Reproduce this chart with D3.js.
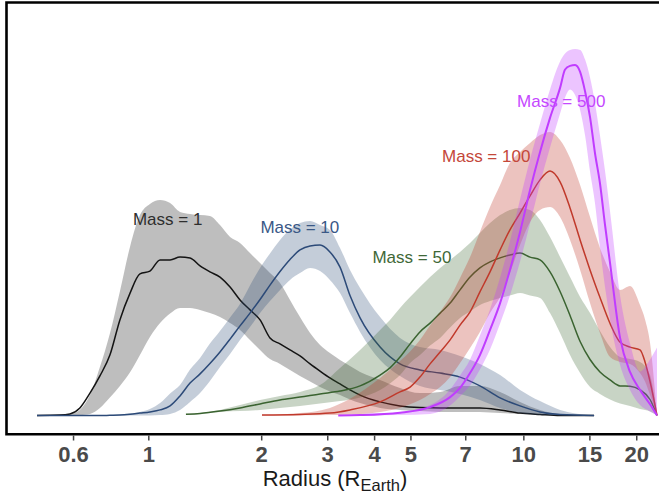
<!DOCTYPE html>
<html>
<head>
<meta charset="utf-8">
<script src="https://cdn.jsdelivr.net/npm/d3@7"></script>
<style>
  body { margin: 0; background: #fff; }
  svg { display: block; font-family: "Liberation Sans", Arial, sans-serif; }
</style>
</head>
<body>
<div id="chart"></div>
<script>
var width = 659, height = 493;

var xTicks = [0.63, 1, 2, 3, 4, 5, 7, 10, 15, 20];
var xTickLabels = ["0.6", "1", "2", "3", "4", "5", "7", "10", "15", "20"];

// radius grid shared by Mass = 1 and Mass = 10
var rLow = [0.505, 0.581, 0.618, 0.657, 0.699, 0.743, 0.79, 0.84, 0.894, 0.95, 1.01, 1.075, 1.143, 1.215, 1.292,
  1.374, 1.46, 1.553, 1.652, 1.756, 1.867, 1.986, 2.111, 2.245, 2.387, 2.538, 2.7, 2.87, 3.05, 3.245, 3.45,
  3.67, 4.15, 4.69, 5.3, 6.0, 6.78, 7.66, 8.67, 9.8, 11.08, 12.53, 15.44];
var m1Mean = [0, 0.1, 0.4, 1.9, 5.6, 9.9, 15.1, 23.9, 30.6, 35.4, 36.1, 38.9, 38.9, 39.6, 39.4,
  37.4, 35.9, 34.6, 32.1, 28.9, 26.4, 23.9, 19.4, 17.9, 16.4, 14.9, 12.9, 11.1, 9.4, 7.9, 6.4,
  5.1, 3.4, 2.4, 2.0, 1.9, 1.9, 1.9, 1.4, 0.6, 0.25, 0, 0];
var m1Lo = [0, 0, 0, 0.1, 0.4, 1.9, 4.5, 7.4, 10.8, 15.1, 19.6, 23.1, 25.5, 26.9, 26.9,
  26.4, 25.6, 24.6, 23.1, 21.4, 18.9, 16.4, 14.1, 12.9, 11.4, 9.9, 8.5, 7.1, 6.0, 5.1, 4.0,
  3.1, 1.9, 1.4, 1.1, 0.9, 0.9, 0.9, 0.6, 0.4, 0.2, 0.1, 0];
var m1Hi = [0, 0.2, 0.4, 1.4, 5.1, 12.1, 20.5, 31.0, 42.2, 50.1, 52.9, 53.9, 53.1, 50.9, 50.4,
  50.1, 49.9, 47.6, 44.6, 43.1, 40.6, 38.1, 35.6, 33.1, 28.9, 24.6, 20.6, 17.6, 15.6, 13.9, 12.4,
  10.9, 8.9, 6.9, 5.6, 5.9, 7.4, 7.4, 5.9, 3.4, 1.4, 0.4, 0];
var m10Mean = [0, 0, 0, 0, 0, 0, 0.05, 0.1, 0.3, 0.6, 0.9, 1.4, 2.4, 4.9, 8.1,
  10.4, 13.0, 15.9, 19.1, 22.4, 25.6, 29.0, 32.6, 36.0, 39.0, 41.4, 42.4, 42.6, 40.9, 37.1, 30.0,
  24.4, 17.1, 12.9, 11.4, 10.6, 9.6, 7.4, 4.4, 2.4, 0.9, 0.25, 0];
var m10Lo = [0, 0, 0, 0, 0, 0, 0, 0, 0, 0, 0, 0.1, 0.4, 1.4, 3.4,
  5.6, 8.6, 12.1, 15.4, 18.9, 22.1, 25.6, 28.6, 31.4, 33.9, 35.6, 36.9, 36.1, 33.9, 30.6, 25.6,
  20.9, 13.9, 9.9, 7.4, 6.4, 5.4, 3.9, 1.9, 0.6, 0.1, 0, 0];
var m10Hi = [0, 0, 0, 0, 0, 0.05, 0.1, 0.25, 0.5, 0.9, 1.6, 3.1, 5.5, 7.6, 11.5,
  14.4, 18.0, 21.1, 24.5, 27.9, 32.5, 36.9, 40.5, 43.9, 46.5, 48.1, 48.6, 47.6, 46.4, 41.9, 36.4,
  31.9, 24.6, 19.4, 17.1, 16.4, 14.9, 12.9, 10.1, 6.4, 3.6, 1.4, 0];

// Mass = 50
var r50 = [1.26, 1.374, 1.553, 1.756, 1.986, 2.245, 2.538, 2.87, 3.245, 3.67, 4.15, 4.41, 4.69, 4.99, 5.3,
  5.64, 6.0, 6.38, 6.78, 7.21, 7.66, 8.15, 8.67, 9.21, 9.8, 10.42, 11.08, 11.78, 12.53, 13.32, 14.17,
  15.06, 16.01, 17.03, 18.11, 19.25, 20.47, 21.77, 22.72];
var m50Mean = [0.3, 0.5, 1.1, 1.9, 2.9, 3.9, 4.6, 5.4, 6.1, 7.4, 10.1, 11.9, 14.6, 17.9, 20.9,
  23.1, 25.6, 28.1, 31.4, 34.6, 36.9, 38.4, 39.4, 40.1, 40.6, 39.6, 38.9, 35.9, 31.0, 25.0, 18.5,
  14.0, 10.9, 8.9, 7.4, 7.3, 6.4, 4.0, 0];
var m50Lo = [0.2, 0.4, 0.9, 1.1, 1.4, 1.9, 2.4, 3.0, 3.6, 4.5, 6.4, 8.0, 10.1, 13.1, 15.1,
  17.5, 19.4, 22.0, 24.4, 26.0, 27.6, 28.6, 29.4, 30.0, 30.6, 30.0, 29.4, 25.6, 20.6, 15.1, 10.6,
  7.1, 5.4, 4.0, 3.0, 2.4, 1.6, 1.0, 0];
var m50Hi = [0.3, 0.6, 1.4, 2.6, 3.9, 4.9, 5.9, 7.6, 11.9, 16.4, 21.4, 23.9, 26.9, 29.6, 32.1,
  34.6, 36.9, 38.9, 40.9, 43.1, 45.6, 48.1, 50.1, 51.4, 51.9, 51.4, 48.9, 44.6, 39.6, 34.6, 29.6,
  25.6, 21.1, 17.1, 14.6, 14.1, 13.4, 10.1, 0];

// Mass = 100
var r100 = [2.01, 2.538, 3.05, 3.45, 4.15, 4.69, 4.99, 5.3, 5.64, 6.0, 6.38, 6.78, 7.21, 7.66, 8.15,
  8.67, 9.21, 9.8, 10.42, 11.08, 11.78, 12.53, 13.32, 14.17, 15.06, 16.01, 17.03, 18.11, 19.25, 20.47,
  21.11, 21.77, 22.72];
var m100Mean = [0.1, 0.25, 0.6, 1.4, 3.4, 5.9, 7.1, 9.6, 12.9, 15.9, 18.9, 22.6, 25.9, 30.9, 35.9,
  41.4, 46.4, 50.6, 54.9, 58.9, 61.1, 58.4, 51.9, 43.9, 36.4, 29.5, 23.0, 18.3, 17.1, 16.4,
  13.4, 8.5, 0];
var m100Lo = [0, 0.05, 0.1, 0.25, 0.9, 1.9, 2.8, 3.9, 5.4, 7.1, 9.6, 13.1, 16.9, 20.9, 25.6,
  29.6, 35.6, 42.6, 48.4, 51.4, 52.1, 49.6, 43.9, 36.4, 28.1, 20.6, 14.6, 13.4, 12.9, 10.6,
  8.5, 5.1, 0];
var m100Hi = [0.1, 0.6, 1.9, 4.2, 9.4, 13.6, 16.0, 18.9, 22.5, 25.9, 29.6, 34.4, 39.6, 45.9, 52.1,
  57.6, 63.1, 65.9, 68.1, 70.1, 70.9, 68.9, 64.4, 57.6, 49.6, 41.9, 35.9, 31.4, 32.4, 27.6,
  24.0, 18.1, 0];

// Mass = 500
var r500 = [3.21, 3.67, 4.69, 5.64, 6.38, 6.78, 7.21, 7.66, 8.15, 8.67, 9.21, 9.8, 10.42, 11.08, 11.78,
  12.53, 12.92, 13.32, 13.74, 14.17, 14.61, 15.06, 15.53, 16.01, 16.52, 17.03, 18.11, 19.25, 20.47, 21.77,
  22.72];
var m500Mean = [0, 0.1, 0.7, 2.1, 4.6, 6.9, 10.6, 15.1, 21.4, 28.1, 36.4, 45.9, 56.4, 65.9, 74.4,
  81.9, 86.5, 87.4, 87.6, 85.9, 81.0, 74.6, 65.5, 58.0, 47.5, 38.1, 19.4, 10.9, 6.4, 2.8,
  0];
var m500Lo = [0, 0, 0.1, 0.4, 2.5, 4.8, 7.5, 11.5, 16.5, 23.0, 30.0, 38.5, 48.0, 58.0, 67.0,
  75.5, 79.5, 81.5, 80.1, 76.4, 70.0, 61.0, 53.0, 42.0, 32.0, 24.0, 12.6, 6.4, 2.6, 1.0,
  0];
var m500Hi = [0.05, 0.2, 0.8, 2.6, 6.5, 10.0, 14.0, 20.0, 26.5, 34.5, 43.5, 54.0, 64.0, 73.0, 81.5,
  88.5, 90.5, 91.4, 91.6, 91.4, 89.0, 84.5, 78.0, 70.0, 61.0, 51.0, 30.0, 18.0, 11.0, 14.0,
  17.0];

var masses = ["Mass = 1", "Mass = 10", "Mass = 50", "Mass = 100", "Mass = 500"];
var labelR = [0.91, 1.99, 3.96, 6.07, 9.62];
var labelV = [47.6, 45.6, 38.1, 63.4, 77.1];

var series = [
  {r: rLow, mean: m1Mean, lo: m1Lo, hi: m1Hi, line: "#141414", text: "#2e2e2e", op: 0.28, w: 1.5},
  {r: rLow, mean: m10Mean, lo: m10Lo, hi: m10Hi, line: "#2c4a78", text: "#3a5886", op: 0.28, w: 1.5},
  {r: r50, mean: m50Mean, lo: m50Lo, hi: m50Hi, line: "#3a6330", text: "#3f6838", op: 0.28, w: 1.5},
  {r: r100, mean: m100Mean, lo: m100Lo, hi: m100Hi, line: "#c0392b", text: "#c4473a", op: 0.3, w: 1.5},
  {r: r500, mean: m500Mean, lo: m500Lo, hi: m500Hi, line: "#c03cff", text: "#c548ff", op: 0.3, w: 2}
];

var svg = d3.select("#chart").append("svg")
  .attr("width", width)
  .attr("height", height);

var x = d3.scaleLog().domain([0.42, 23]).range([7, 659]);
var y = d3.scaleLinear().domain([0, 100]).range([415.5, 15.5]);

var area = d3.area()
  .curve(d3.curveMonotoneX)
  .x(d => x(d.r))
  .y0(d => y(d.lo))
  .y1(d => y(d.hi));

var line = d3.line()
  .curve(d3.curveMonotoneX)
  .x(d => x(d.r))
  .y(d => y(d.v));

var plot = svg.append("g");

series.forEach(function(s, i) {
  var pts = s.r.map(function(r, j) {
    return {r: r, v: s.mean[j], lo: s.lo[j], hi: s.hi[j]};
  });
  plot.append("path")
    .attr("d", area(pts))
    .attr("fill", s.line)
    .attr("fill-opacity", s.op)
    .attr("stroke", "none");
  plot.append("path")
    .attr("d", line(pts))
    .attr("fill", "none")
    .attr("stroke", s.line)
    .attr("stroke-width", s.w)
    .attr("stroke-linejoin", "round");
});

series.forEach(function(s, i) {
  svg.append("text")
    .attr("x", x(labelR[i]))
    .attr("y", y(labelV[i]))
    .attr("font-size", "17px")
    .attr("fill", s.text)
    .text(masses[i]);
});

// frame: left, top, bottom (no right edge in view)
svg.append("path")
  .attr("d", "M662,2.5H6.5V434.2H662")
  .attr("fill", "none")
  .attr("stroke", "#000")
  .attr("stroke-width", 2.6);

var xAxis = d3.axisBottom(x)
  .tickValues(xTicks)
  .tickFormat((d, i) => xTickLabels[i])
  .tickSize(5)
  .tickPadding(6);

var gx = svg.append("g")
  .attr("transform", "translate(0,435.5)")
  .call(xAxis);
gx.select(".domain").remove();
gx.selectAll(".tick line").attr("stroke", "#444").attr("stroke-width", 1.5);
gx.selectAll(".tick text")
  .attr("font-family", "'Liberation Sans', Arial, sans-serif")
  .attr("font-size", "22px")
  .attr("font-weight", "bold")
  .attr("fill", "#4a4a4a");

var title = svg.append("text")
  .attr("x", 335)
  .attr("y", 486)
  .attr("text-anchor", "middle")
  .attr("font-size", "22px")
  .attr("fill", "#1a1a1a");
title.append("tspan").text("Radius (R");
title.append("tspan").attr("font-size", "16.5px").attr("dy", 5).text("Earth");
title.append("tspan").attr("dy", -5).text(")");
</script>
</body>
</html>
